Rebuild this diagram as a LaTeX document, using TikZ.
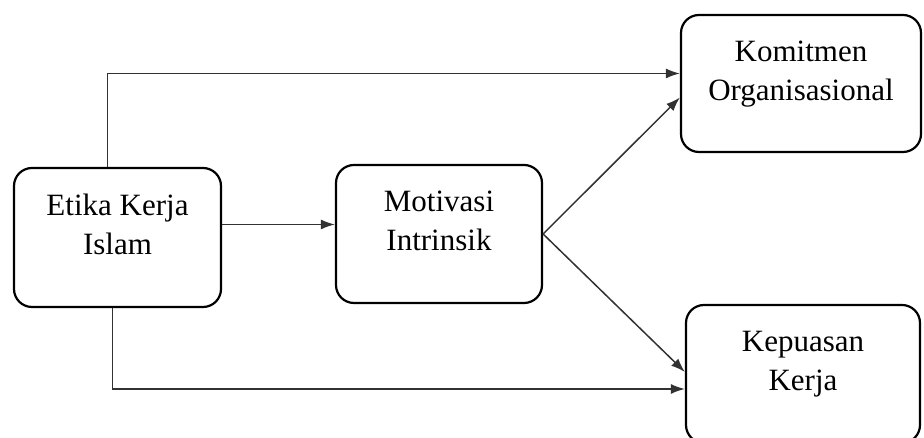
\documentclass[tikz,border=0pt]{standalone}
\usepackage{fontspec}
\setmainfont{Liberation Serif}
\usetikzlibrary{arrows.meta, positioning, calc}
\definecolor{linegray}{RGB}{50,50,50}

\begin{document}
\begin{tikzpicture}[x=1pt, y=1pt,
  varbox/.style={draw, line width=2.2pt, rounded corners=18pt, align=center,
    font=\fontsize{31}{39}\selectfont, text depth=26pt, inner sep=0pt},
  link/.style={-{Latex[length=14pt, width=10pt]}, line width=1.5pt, linegray}]
  \useasboundingbox (0,0) rectangle (924,438);
  \node[varbox, minimum width=207pt, minimum height=139pt] (eki) at (117.5, 200.5) {Etika Kerja\\Islam};
  \node[varbox, minimum width=206pt, minimum height=138pt] (mi) at (439, 204) {Motivasi\\Intrinsik};
  \node[varbox, minimum width=240pt, minimum height=137pt] (ko) at (801, 354.5) {Komitmen\\Organisasional};
  \node[varbox, minimum width=234pt, minimum height=138pt] (kk) at (803, 64) {Kepuasan\\Kerja};
  \draw[link] ([xshift=-10pt]eki.north) |- ([yshift=10pt]ko.west);
  \draw[link] ([yshift=13pt]eki.east) -- ([yshift=13pt]eki.east -| mi.west);
  \draw[link] (mi.east) -- ([yshift=-14pt]ko.west);
  \draw[link] (mi.east) -- ([yshift=2pt]kk.west);
  \draw[link] ([xshift=-5pt]eki.south) |- ([yshift=-15pt]kk.west);
\end{tikzpicture}
\end{document}
